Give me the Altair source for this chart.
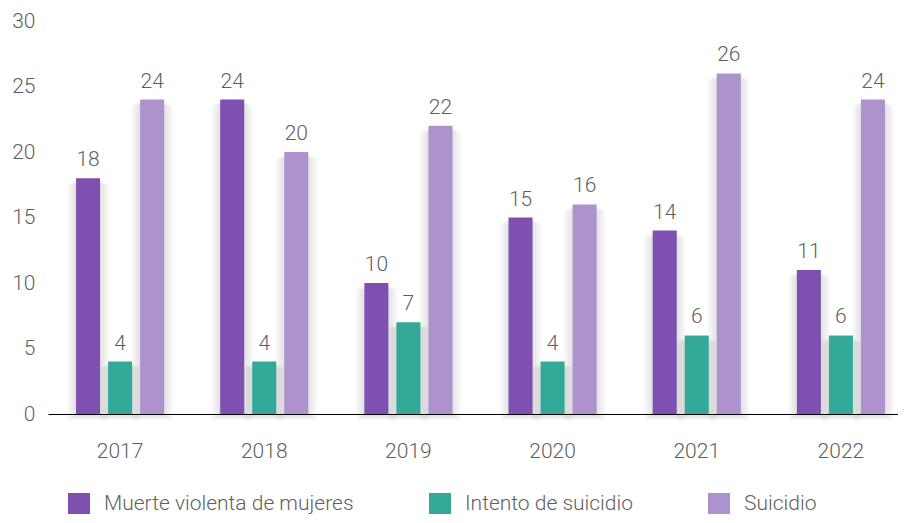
import altair as alt
import pandas as pd

years = ["2017", "2018", "2019", "2020", "2021", "2022"]
series = ["Muerte violenta de mujeres", "Intento de suicidio", "Suicidio"]
muerte = [18, 24, 10, 15, 14, 11]
intento = [4, 4, 7, 4, 6, 6]
suicidio = [24, 20, 22, 16, 26, 24]
colors = ["#7E51B0", "#33AA99", "#AE92CE"]
y_ticks = [0, 5, 10, 15, 20, 25, 30]

FONT = "Roboto"
TXT = "#5f5f5f"
FS = 21

rows = []
for i, yr in enumerate(years):
    for s, vals in zip(series, [muerte, intento, suicidio]):
        rows.append({"year": yr, "serie": s, "value": vals[i]})
df = pd.DataFrame(rows)

x = alt.X(
    "year:N", sort=years,
    scale=alt.Scale(range=[0, 865], paddingInner=1 / 3, paddingOuter=1 / 6),
    axis=alt.Axis(title=None, labelAngle=0, ticks=False, domainColor="#000000",
                  domainWidth=1, labelFontSize=FS, labelPadding=26, labelColor=TXT,
                  labelFont=FONT, labelFontWeight=300, zindex=1),
)
xo = alt.XOffset("serie:N", sort=series,
                 scale=alt.Scale(paddingInner=0.25, paddingOuter=0.125))
y = alt.Y(
    "value:Q", scale=alt.Scale(domain=[0, 30]),
    axis=alt.Axis(title=None, values=y_ticks, grid=False, domain=False, ticks=False,
                  labelPadding=13, labelFontSize=FS, labelColor=TXT, labelFont=FONT,
                  labelFontWeight=300),
)
color = alt.Color(
    "serie:N", sort=series,
    scale=alt.Scale(domain=series, range=colors),
    legend=alt.Legend(title=None, orient="none", legendX=20, legendY=472,
                      direction="horizontal", symbolType="square", symbolSize=484,
                      symbolStrokeWidth=0, symbolOpacity=1, labelFontSize=FS,
                      labelFont=FONT, labelFontWeight=300, labelColor=TXT,
                      labelOffset=14, columnPadding=75, labelLimit=500),
)

base = alt.Chart(df)

shadows = []
for w, dx, dy in [(26, 3, 2), (30, 5, 3), (34, 7, 4), (38, 9, 5), (42, 11, 6)]:
    shadows.append(
        base.mark_bar(color="#000000", opacity=0.022, width=w, xOffset=dx, yOffset=dy)
        .encode(x=x, xOffset=xo, y=y)
    )

bars = base.mark_bar().encode(x=x, xOffset=xo, y=y, color=color)
labels = base.mark_text(baseline="bottom", dy=-8, fontSize=FS, font=FONT,
                        fontWeight=300, color=TXT).encode(
    x=x, xOffset=xo, y=y, text="value:Q")

chart = alt.layer(*shadows, bars, labels).properties(
    width=850, height=393,
    autosize=alt.AutoSizeParams(type="none"),
    padding={"left": 40, "top": 13, "right": 0, "bottom": 100},
).configure_view(stroke=None)

chart.save("out.html", embed_options={"renderer": "svg", "actions": False})
